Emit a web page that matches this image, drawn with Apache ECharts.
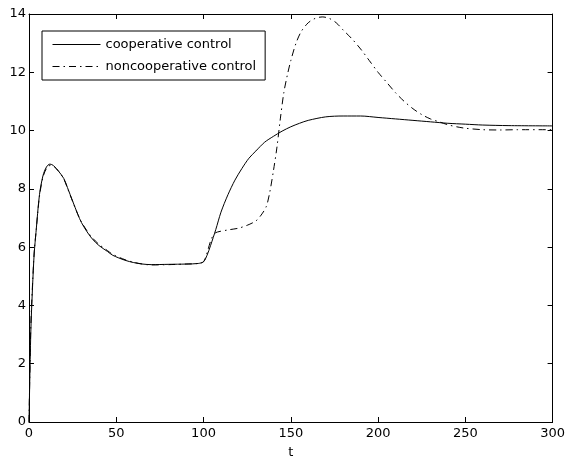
<!DOCTYPE html>
<html>
<head>
<meta charset="utf-8">
<script src="https://cdn.jsdelivr.net/npm/echarts@6/dist/echarts.min.js"></script>
<style>
  html, body { margin: 0; padding: 0; background: #fff; }
  #chart { width: 568px; height: 464px; }
</style>
</head>
<body>
<div id="chart"></div>
<script>
// time samples and values
const coopT = [0, 1, 2, 3, 4, 6, 8, 10, 12, 14, 17, 20, 22, 25, 28, 30, 33, 36, 40, 45, 48, 55, 60, 65, 70, 80, 90, 97,
  100, 102, 104, 107, 110, 114, 118, 122, 126, 130, 135, 140, 145, 150, 155, 160, 170, 180, 190, 200, 210, 220, 230,
  240, 250, 260, 275, 300];
const coopV = [0, 3.0, 4.6, 5.8, 6.5, 7.8, 8.45, 8.75, 8.85, 8.8, 8.6, 8.35, 8.05, 7.58, 7.12, 6.85, 6.55, 6.3, 6.06,
  5.85, 5.72, 5.55, 5.47, 5.42, 5.4, 5.41, 5.42, 5.44,
  5.5, 5.72, 6.05, 6.6, 7.2, 7.8, 8.3, 8.7, 9.05, 9.3, 9.6, 9.8, 9.98, 10.13, 10.25, 10.35, 10.47, 10.5, 10.5, 10.45,
  10.4, 10.35, 10.3, 10.25, 10.22, 10.19, 10.17, 10.16];

const noncoopT = [0, 1, 2, 3, 4, 6, 8, 10, 12, 14, 17, 20, 22, 25, 28, 30, 33, 36, 40, 45, 48, 55, 60, 65, 70, 80, 90,
  97, 100, 102, 104, 106, 108, 115, 120, 125, 130, 133, 136, 138, 140, 142, 144, 146, 148, 150, 153, 156, 160, 164,
  168, 172, 176, 180, 185, 190, 195, 200, 205, 210, 215, 220, 225, 230, 235, 240, 245, 250, 260, 270, 280, 300];
const noncoopV = [0, 3.2, 4.7, 5.85, 6.5, 7.75, 8.4, 8.7, 8.8, 8.78, 8.6, 8.33, 8.03, 7.57, 7.12, 6.87, 6.58, 6.34,
  6.1, 5.88, 5.75, 5.57, 5.48, 5.42, 5.39, 5.4, 5.42, 5.44,
  5.5, 5.8, 6.2, 6.45, 6.52, 6.6, 6.65, 6.75, 6.9, 7.1, 7.4, 7.9, 8.6, 9.4, 10.4, 11.3, 11.9, 12.4, 13.0, 13.4, 13.7,
  13.85, 13.9, 13.85, 13.7, 13.45, 13.15, 12.8, 12.4, 12.0, 11.65, 11.3, 11.0, 10.75, 10.55, 10.4, 10.3, 10.2, 10.13,
  10.08, 10.03, 10.02, 10.03, 10.03];

const seriesNames = ['cooperative control', 'noncooperative control'];
const xTicks = [0, 50, 100, 150, 200, 250, 300];
const yTicks = [0, 2, 4, 6, 8, 10, 12, 14];

const pairs = (ts, vs) => ts.map((t, i) => [t, vs[i]]);

const chart = echarts.init(document.getElementById('chart'));

const font = 'DejaVu Sans';
const axisBase = {
  type: 'value',
  splitLine: { show: false },
  axisLine: { show: true, onZero: false, lineStyle: { color: '#000', width: 1 } },
  axisTick: { show: true, inside: true, length: 5, lineStyle: { color: '#000' } }
};

const option = {
  animation: false,
  backgroundColor: '#fff',
  grid: { left: 29, top: 14, right: 15, bottom: 41 },
  legend: {
    left: 42,
    top: 31,
    orient: 'vertical',
    itemWidth: 48,
    itemHeight: 10,
    itemGap: 9,
    padding: [7, 9, 7, 10],
    borderColor: '#000',
    borderWidth: 1,
    backgroundColor: '#fff',
    itemStyle: { opacity: 0 },
    lineStyle: { width: 1 },
    textStyle: { fontFamily: font, fontSize: 13, color: '#000' },
    data: seriesNames
  },
  xAxis: [
    Object.assign({}, axisBase, {
      min: 0, max: 300, interval: 50,
      name: 't', nameLocation: 'middle', nameGap: 24,
      nameTextStyle: { fontFamily: font, fontSize: 13, color: '#000' },
      axisLabel: { fontFamily: font, fontSize: 13, color: '#000', margin: 5 }
    }),
    Object.assign({}, axisBase, {
      position: 'top', min: 0, max: 300, interval: 50,
      axisLabel: { show: false }
    })
  ],
  yAxis: [
    Object.assign({}, axisBase, {
      min: 0, max: 14, interval: 2,
      axisLabel: { fontFamily: font, fontSize: 13, color: '#000', margin: 3 }
    }),
    Object.assign({}, axisBase, {
      position: 'right', min: 0, max: 14, interval: 2,
      axisLabel: { show: false }
    })
  ],
  series: [
    {
      name: seriesNames[0],
      type: 'line',
      data: pairs(coopT, coopV),
      smooth: 0.3,
      symbol: 'none',
      lineStyle: { color: '#000', width: 1 },
      itemStyle: { color: '#000' },
      z: 3
    },
    {
      name: seriesNames[1],
      type: 'line',
      data: pairs(noncoopT, noncoopV),
      smooth: 0.3,
      symbol: 'none',
      lineStyle: { color: '#000', width: 1, type: [7, 4, 1.5, 4] },
      itemStyle: { color: '#000' },
      z: 2
    }
  ]
};

chart.setOption(option);
</script>
</body>
</html>
